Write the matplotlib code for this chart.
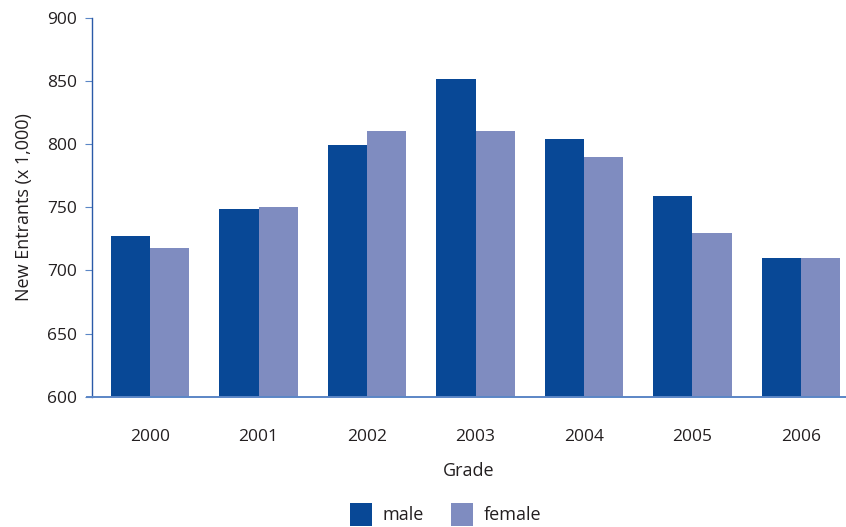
import matplotlib
matplotlib.use("Agg")
import matplotlib.pyplot as plt
import numpy as np

years = ["2000", "2001", "2002", "2003", "2004", "2005", "2006"]
male = [727, 749, 799, 851, 804, 759, 710]
female = [718, 750, 810, 810, 790, 730, 710]

male_color = "#084896"
female_color = "#7f8cc0"
text_color = "#231f20"

plt.rcParams["font.family"] = ["Open Sans", "DejaVu Sans"]

fig = plt.figure(figsize=(8.46, 5.27), dpi=100)
ax = fig.add_axes([92 / 846, 1 - 397 / 527, 1 - 92 / 846, (397 - 17.5) / 527])

x = np.arange(len(years))
w = 0.36
ax.bar(x - w / 2, male, width=w, color=male_color, label="male", zorder=2)
ax.bar(x + w / 2, female, width=w, color=female_color, label="female", zorder=2)

ax.set_ylim(600, 900)
ax.set_xlim(-0.535, 6.415)
ax.set_yticks(range(600, 901, 50))
ax.set_xticks(x)
ax.set_xticklabels(years)

for s in ["top", "right"]:
    ax.spines[s].set_visible(False)
ax.spines["left"].set_color("#2a5aa8")
ax.spines["left"].set_linewidth(1.0)
ax.spines["bottom"].set_color("#5b86c6")
ax.spines["bottom"].set_linewidth(1.4)
ax.spines["bottom"].set_zorder(3)
ax.spines["bottom"].set_bounds(-0.58, 6.415)
ax.spines["bottom"].set_clip_on(False)

ax.tick_params(axis="y", length=5, color="#5b86c6", pad=6, labelsize=12.5, labelcolor=text_color)
ax.tick_params(axis="x", length=0, pad=23, labelsize=12.5, labelcolor=text_color)

ax.set_xlabel("Grade", fontsize=13, color=text_color, labelpad=12)
ax.set_ylabel("New Entrants (x 1,000)", fontsize=13, color=text_color, labelpad=10)

fig.legend(loc="lower center", bbox_to_anchor=(0.527, -0.028), ncol=2, frameon=False,
           fontsize=13, handlelength=1.2, handleheight=1.5, columnspacing=1.5,
           handletextpad=0.6, labelcolor=text_color)

fig.savefig("out.png", dpi=100, facecolor="white")
